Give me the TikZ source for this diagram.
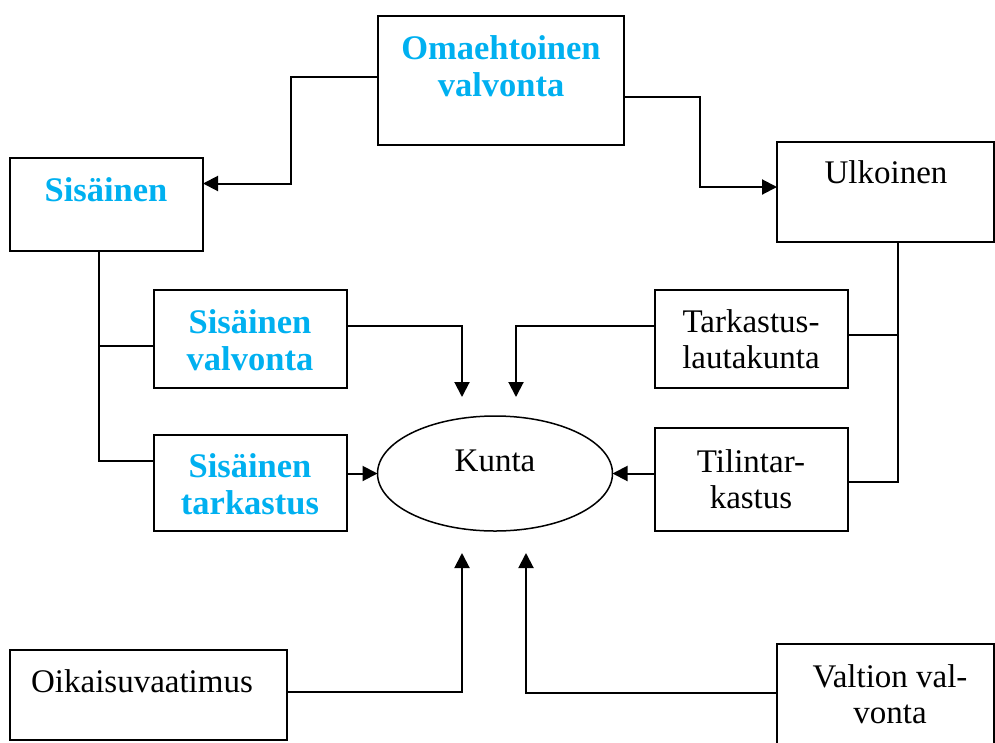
\documentclass[tikz,border=0pt]{standalone}
\usepackage{fontspec}
\setmainfont{Liberation Serif}
\usepackage{color}
\usetikzlibrary{arrows.meta,shapes.geometric}
\definecolor{valvblue}{RGB}{0,176,240}

\tikzset{
	box/.style={draw,line width=1.5pt,inner sep=0pt,outer sep=0pt},
	txt/.style={align=center,font=\fontsize{33}{36}\selectfont},
	btxt/.style={align=center,text=valvblue,font=\fontsize{34.5}{37}\selectfont\bfseries},
	line/.style={line width=2pt},
	arr/.style={line,-{Triangle[length=15pt,width=15pt]}}
}

\begin{document}
\begin{tikzpicture}[x=1pt,y=-1pt]
	\useasboundingbox (0,0) rectangle (995,742);
	\node[box,minimum width=246pt,minimum height=129pt] (oma) at (501,80.5) {};
	\node[box,minimum width=193pt,minimum height=93pt] (sis) at (106.5,204.5) {};
	\node[box,minimum width=217pt,minimum height=100pt] (ulk) at (885.5,192) {};
	\node[box,minimum width=193pt,minimum height=98pt] (sisv) at (250.5,339) {};
	\node[box,minimum width=193pt,minimum height=96pt] (sist) at (250.5,483) {};
	\node[box,minimum width=193pt,minimum height=98pt] (tark) at (751.5,339) {};
	\node[box,minimum width=193pt,minimum height=103pt] (tili) at (751.5,479.5) {};
	\node[box,ellipse,minimum width=235pt,minimum height=115pt] (kunta) at (495,473.5) {};
	\node[box,minimum width=277pt,minimum height=90pt] (oik) at (148.5,695) {};
	\node[box,minimum width=217pt,minimum height=101pt] (val) at (885.5,694.5) {};

	\node[btxt] (omaT) at (501,66.5) {Omaehtoinen\\valvonta};
	\node[btxt] (sisT) at (106,190) {Sisäinen};
	\node[txt] (ulkT) at (886,172) {Ulkoinen};
	\node[btxt] (sisvT) at (250,340) {Sisäinen\\valvonta};
	\node[btxt] (sistT) at (250,484.5) {Sisäinen\\tarkastus};
	\node[txt] (tarkT) at (751,339.5) {Tarkastus-\\lautakunta};
	\node[txt] (tiliT) at (751,479.5) {Tilintar-\\kastus};
	\node[txt] (kuntaT) at (495,461) {Kunta};
	\node[txt] (oikT) at (142,681) {Oikaisuvaatimus};
	\node[txt] (valT) at (890,694.5) {Valtion val-\\vonta};

	\coordinate (kuntaNW) at (462,397);
	\coordinate (kuntaNE) at (516,397);
	\coordinate (kuntaSW) at (462,553);
	\coordinate (kuntaSE) at (526,553);

	\draw[arr] ([yshift=4pt]oma.west) -- ++(-87,0) |- ([yshift=21pt]sis.east);
	\draw[arr] ([yshift=-16pt]oma.east) -- ++(76,0) |- ([yshift=5pt]ulk.west);
	\draw[line] ([xshift=-7.5pt]sis.south) |- ([yshift=22pt]sist.west);
	\draw[line] ([yshift=-7pt]sisv.west) -- ++(-55,0);
	\draw[line] ([xshift=12.5pt]ulk.south) |- ([yshift=-2.5pt]tili.east);
	\draw[line] ([yshift=4pt]tark.east) -- ++(50,0);
	\draw[arr] ([yshift=13pt]sisv.east) -| (kuntaNW);
	\draw[arr] ([yshift=13pt]tark.west) -| (kuntaNE);
	\draw[arr] (kunta.west -| sist.east) -- (kunta.west);
	\draw[arr] (kunta.east -| tili.west) -- (kunta.east);
	\draw[arr] ([yshift=3pt]oik.east) -| (kuntaSW);
	\draw[arr] ([yshift=2pt]val.west) -| (kuntaSE);
\end{tikzpicture}
\end{document}
